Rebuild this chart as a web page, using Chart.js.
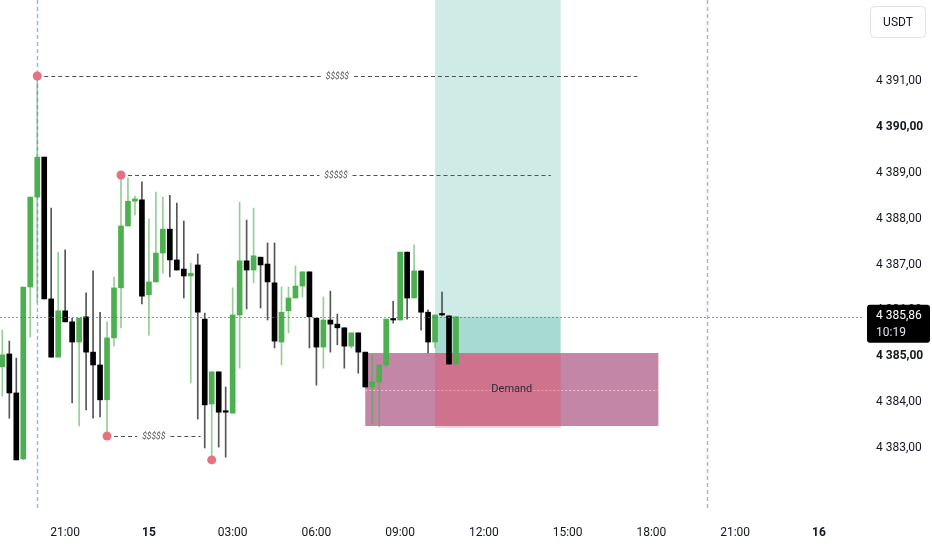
<!DOCTYPE html>
<html><head><meta charset="utf-8">
<script src="https://cdn.jsdelivr.net/npm/chart.js@4.4.1/dist/chart.umd.min.js"></script>
<style>html,body{margin:0;padding:0;background:#fff;}#wrap{width:932px;height:550px;position:relative;}</style>
</head><body><div id="wrap"><canvas id="c" width="932" height="550"></canvas></div>
<script>
// 15-minute candles, time in hours relative to 00:00 of day 15
const candleTimes = [-5.25,-5,-4.75,-4.5,-4.25,-4,-3.75,-3.5,-3.25,-3,-2.75,-2.5,-2.25,-2,-1.75,-1.5,-1.25,-1,-0.75,-0.5,-0.25,0,0.25,0.5,0.75,1,1.25,1.5,1.75,2,2.25,2.5,2.75,3,3.25,3.5,3.75,4,4.25,4.5,4.75,5,5.25,5.5,5.75,6,6.25,6.5,6.75,7,7.25,7.5,7.75,8,8.25,8.5,8.75,9,9.25,9.5,9.75,10,10.25,10.5,10.75,11];
const opens  = [4384.77,4385.05,4384.20,4382.76,4386.51,4388.47,4389.34,4386.25,4384.98,4385.99,4385.75,4385.31,4385.86,4385.09,4384.81,4384.05,4385.40,4386.49,4387.84,4388.38,4388.41,4386.34,4386.62,4387.25,4387.77,4387.10,4386.90,4386.75,4386.99,4385.81,4383.96,4384.66,4383.81,4383.76,4385.90,4387.08,4386.88,4387.16,4387.01,4386.60,4385.31,4385.99,4386.27,4386.53,4386.84,4385.83,4385.20,4385.79,4385.70,4385.62,4385.22,4385.51,4385.09,4384.33,4384.44,4384.81,4385.81,4385.79,4387.27,4386.27,4386.86,4385.96,4385.31,4385.92,4385.88,4384.83];
const highs  = [4385.57,4385.33,4384.96,4386.51,4388.47,4391.11,4389.34,4388.23,4387.27,4387.32,4385.83,4385.83,4386.38,4386.86,4385.96,4385.75,4386.73,4388.95,4388.89,4388.49,4388.80,4387.99,4388.58,4388.47,4388.51,4388.34,4387.95,4387.03,4387.23,4385.94,4384.66,4384.66,4384.33,4386.49,4388.36,4387.97,4388.23,4387.16,4387.47,4387.47,4386.51,4386.51,4386.97,4386.84,4386.84,4385.83,4386.29,4386.42,4385.92,4385.62,4385.51,4385.51,4385.09,4385.03,4384.81,4385.81,4386.20,4387.27,4387.27,4387.43,4386.86,4386.01,4385.90,4386.40,4385.88,4385.86];
const lows   = [4384.13,4383.65,4382.74,4382.74,4385.42,4386.18,4386.25,4384.98,4384.98,4385.75,4383.98,4383.48,4383.83,4383.65,4383.68,4383.26,4385.22,4385.62,4387.84,4388.08,4386.14,4385.46,4386.62,4386.81,4386.73,4386.88,4386.27,4384.42,4383.63,4383.00,4382.74,4383.02,4382.80,4383.76,4384.74,4386.03,4386.60,4386.05,4385.79,4385.18,4384.81,4385.51,4386.27,4386.29,4385.18,4384.37,4384.74,4385.09,4385.25,4384.74,4385.18,4384.63,4384.33,4383.54,4383.46,4384.77,4385.72,4385.79,4385.81,4386.27,4385.57,4385.07,4385.18,4385.88,4384.83,4384.83];
const closes = [4385.03,4384.20,4382.74,4386.51,4388.47,4389.34,4386.25,4384.98,4385.99,4385.75,4385.31,4385.83,4385.09,4384.81,4384.05,4385.40,4386.49,4387.84,4388.38,4388.43,4386.31,4386.62,4387.25,4387.77,4387.10,4386.88,4386.75,4386.81,4385.96,4383.94,4384.66,4383.78,4383.78,4385.90,4387.08,4386.88,4387.19,4386.99,4386.62,4385.33,4385.96,4386.27,4386.53,4386.84,4385.86,4385.20,4385.79,4385.70,4385.62,4385.22,4385.51,4385.09,4384.33,4384.44,4384.81,4385.81,4385.79,4387.27,4386.27,4386.86,4385.96,4385.31,4385.90,4385.90,4384.83,4385.86];

// axes
const timeTicks = [-3,0,3,6,9,12,15,18,21,24];
const timeTickLabels = ['21:00','15','03:00','06:00','09:00','12:00','15:00','18:00','21:00','16'];
const dayTicks = [0,24];
const priceTicks = [4383,4384,4385,4386,4387,4388,4389,4390,4391];
const boldPriceTicks = [4385,4390];
const timeRange = [-5.334,25.544];
const priceRange = [4381.583,4392.766];

// annotations
const lastPrice = 4385.86;
const countdown = '10:19';
const currency = 'USDT';
const sessionBreaks = [-4,20];
const liqFrom  = [-4,-1,-1.5];
const liqTo    = [17.5,14.4,1.85];
const liqPrice = [4391.11,4388.95,4383.26];
const liqLabel = ['$$$$$','$$$$$','$$$$$'];
const swingTimes  = [-4,-1,-1.5,2.25];
const swingPrices = [4391.11,4388.95,4383.26,4382.74];
const demandTimes = [7.75,18.25];
const demandPrices = [4385.07,4383.48];
const demandLabel = 'Demand';
const positionTimes = [10.25,14.75];
const positionEntry = 4385.07, positionStop = 4383.44, positionTarget = 4394.0;

const FONT = 'Roboto';
const GREEN = '#4caf50', GREEN_WICK = 'rgba(76,175,80,0.6)', BLACK = '#000000', BLACK_WICK = '#555555';
const up = closes.map((c,i)=>c>=opens[i]);

function fmtPrice(v){
  const s = v.toFixed(2); const [ip,dp] = s.split('.');
  return ip.slice(0,-3)+' '+ip.slice(-3)+','+dp;
}

const overlay = {
  id:'overlay',
  beforeDatasetsDraw(chart){
    const {ctx, chartArea:a, scales:{x,y}} = chart;
    ctx.save();
    ctx.beginPath(); ctx.rect(a.left,a.top,a.right-a.left,a.bottom-a.top); ctx.clip();
    // session breaks
    ctx.strokeStyle='#9db9f5'; ctx.lineWidth=1.5; ctx.setLineDash([4,3]);
    sessionBreaks.forEach(t=>{const px=Math.round(x.getPixelForValue(t))+0.5; ctx.beginPath(); ctx.moveTo(px,a.top); ctx.lineTo(px,a.bottom-4); ctx.stroke();});
    ctx.setLineDash([]);
    // demand zone
    const dx1=x.getPixelForValue(demandTimes[0]), dx2=x.getPixelForValue(demandTimes[1]);
    const dy1=y.getPixelForValue(demandPrices[0]), dy2=y.getPixelForValue(demandPrices[1]);
    ctx.fillStyle='rgba(136,14,79,0.5)'; ctx.fillRect(dx1,dy1,dx2-dx1,dy2-dy1);
    ctx.strokeStyle='rgba(255,190,210,0.9)'; ctx.setLineDash([2,2]); ctx.lineWidth=1;
    const my=Math.round((dy1+dy2)/2)+0.5; ctx.beginPath(); ctx.moveTo(dx1,my); ctx.lineTo(dx2,my); ctx.stroke(); ctx.setLineDash([]);
    // position tool
    const px1=x.getPixelForValue(positionTimes[0]), px2=x.getPixelForValue(positionTimes[1]);
    const ey=y.getPixelForValue(positionEntry), sy=y.getPixelForValue(positionStop), ty=y.getPixelForValue(positionTarget), ly=y.getPixelForValue(lastPrice);
    ctx.fillStyle='rgba(8,153,129,0.2)'; ctx.fillRect(px1,ty,px2-px1,ey-ty);
    ctx.fillStyle='rgba(8,153,129,0.2)'; ctx.fillRect(px1,ly,px2-px1,ey-ly);
    ctx.fillStyle='rgba(242,54,69,0.25)'; ctx.fillRect(px1,ey,px2-px1,sy-ey);
    // demand label
    ctx.fillStyle='#2a2e39'; ctx.font='11px '+FONT; ctx.textAlign='center'; ctx.textBaseline='middle';
    ctx.fillText(demandLabel,(dx1+dx2)/2,(dy1+dy2)/2);
    ctx.restore();
  },
  afterDatasetsDraw(chart){
    const {ctx, chartArea:a, scales:{x,y}} = chart;
    ctx.save();
    ctx.beginPath(); ctx.rect(a.left,a.top,a.right-a.left,a.bottom-a.top); ctx.clip();
    // last price line (pink dotted)
    const ly=Math.round(y.getPixelForValue(lastPrice));
    ctx.fillStyle='rgba(242,54,69,0.7)';
    for(let px=a.left; px<a.right; px+=4){ ctx.fillRect(px,ly,2,1); }
    // liquidity lines
    ctx.font='italic 8.5px '+FONT; ctx.textAlign='center'; ctx.textBaseline='middle';
    liqPrice.forEach((p,i)=>{
      const yy=Math.round(y.getPixelForValue(p))+0.5;
      const x1=x.getPixelForValue(liqFrom[i]), x2=x.getPixelForValue(liqTo[i]);
      const mx=(x1+x2)/2, w=ctx.measureText(liqLabel[i]).width/2+5;
      ctx.strokeStyle='#505050'; ctx.lineWidth=1; ctx.setLineDash([4,3]);
      ctx.beginPath(); ctx.moveTo(x1,yy); ctx.lineTo(mx-w,yy); ctx.moveTo(mx+w,yy); ctx.lineTo(x2,yy); ctx.stroke();
      ctx.fillStyle='#505050'; ctx.fillText(liqLabel[i],mx,yy);
    });
    ctx.setLineDash([]);
    // swing points
    ctx.fillStyle='#e8707f';
    swingTimes.forEach((t,i)=>{ctx.beginPath(); ctx.arc(x.getPixelForValue(t),y.getPixelForValue(swingPrices[i]),4.5,0,Math.PI*2); ctx.fill();});
    ctx.restore();
  },
  afterDraw(chart){
    const {ctx, chartArea:a, scales:{y}} = chart;
    ctx.save();
    const ly=y.getPixelForValue(lastPrice);
    const bx=a.right+5, bw=932-bx-2, top=ly-12, bh=38;
    ctx.fillStyle='#000'; ctx.beginPath(); ctx.roundRect(bx,top,bw,bh,3); ctx.fill();
    ctx.textAlign='left'; ctx.textBaseline='middle';
    ctx.fillStyle='#ffffff'; ctx.font='12px '+FONT; ctx.fillText(fmtPrice(lastPrice),a.right+14,ly-1);
    ctx.fillStyle='#e0e3eb'; ctx.fillText(countdown,a.right+14,ly+16);
    // currency box
    ctx.strokeStyle='#e0e3eb'; ctx.lineWidth=1; ctx.fillStyle='#fff';
    ctx.beginPath(); ctx.roundRect(870.5,6.5,55,31,4); ctx.fill(); ctx.stroke();
    ctx.fillStyle='#131722'; ctx.textAlign='center'; ctx.font='12px '+FONT;
    ctx.fillText(currency,898,22.5);
    ctx.restore();
  }
};

const wickData = candleTimes.map((t,i)=>({x:t,y:[lows[i],highs[i]]}));
const bodyData = candleTimes.map((t,i)=>({x:t,y:[opens[i],closes[i]]}));

new Chart(document.getElementById('c'),{
  type:'bar',
  data:{datasets:[
    {label:'wick',data:wickData,backgroundColor:up.map(u=>u?GREEN_WICK:BLACK_WICK),barThickness:1,grouped:false,minBarLength:1,order:2},
    {label:'body',data:bodyData,backgroundColor:up.map(u=>u?GREEN:BLACK),barThickness:5,grouped:false,minBarLength:1.5,order:1}
  ]},
  options:{
    responsive:false,animation:false,devicePixelRatio:1,
    layout:{padding:0},
    plugins:{legend:{display:false},tooltip:{enabled:false}},
    scales:{
      x:{type:'linear',min:timeRange[0],max:timeRange[1],offset:false,
        grid:{display:false,drawTicks:false},border:{display:false},
        afterBuildTicks:s=>{s.ticks=timeTicks.map(v=>({value:v}));},
        afterFit:s=>{s.height=37;s.paddingLeft=0;s.paddingRight=0;},
        ticks:{padding:13,maxRotation:0,autoSkip:false,color:'#131722',
          callback:(v)=>timeTickLabels[timeTicks.indexOf(v)],
          font:(c)=>({family:FONT,size:12,weight:(c.tick&&dayTicks.includes(c.tick.value))?'bold':'normal'})}
      },
      y:{type:'linear',position:'right',min:priceRange[0],max:priceRange[1],
        grid:{display:false,drawTicks:false},border:{display:false},
        afterBuildTicks:s=>{s.ticks=priceTicks.map(v=>({value:v}));},
        afterFit:s=>{s.width=70;s.paddingTop=0;s.paddingBottom=0;},
        ticks:{padding:14,color:'#131722',autoSkip:false,
          callback:(v)=>fmtPrice(v),
          font:(c)=>({family:FONT,size:12,weight:(c.tick&&boldPriceTicks.includes(c.tick.value))?'bold':'normal'})}
      }
    }
  },
  plugins:[overlay]
});
</script></body></html>
